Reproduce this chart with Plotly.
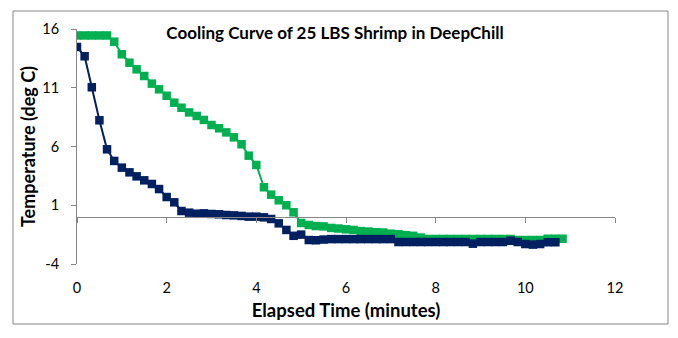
import plotly.graph_objects as go

# Elapsed time in minutes (10-second intervals)
time_min = [0.00, 0.17, 0.33, 0.50, 0.67, 0.83, 1.00, 1.17, 1.33, 1.50,
            1.67, 1.83, 2.00, 2.17, 2.33, 2.50, 2.67, 2.83, 3.00, 3.17,
            3.33, 3.50, 3.67, 3.83, 4.00, 4.17, 4.33, 4.50, 4.67, 4.83,
            5.00, 5.17, 5.33, 5.50, 5.67, 5.83, 6.00, 6.17, 6.33, 6.50,
            6.67, 6.83, 7.00, 7.17, 7.33, 7.50, 7.67, 7.83, 8.00, 8.17,
            8.33, 8.50, 8.67, 8.83, 9.00, 9.17, 9.33, 9.50, 9.67, 9.83,
            10.00, 10.17, 10.33, 10.50, 10.67, 10.83]

green_temp = [15.45, 15.45, 15.45, 15.45, 15.45, 14.92, 13.85, 13.13, 12.57, 12.00,
              11.35, 10.87, 10.32, 9.73, 9.30, 8.90, 8.60, 8.26, 7.83, 7.55,
              7.20, 6.78, 6.19, 5.22, 4.43, 2.53, 1.90, 1.42, 1.00, 0.40,
              -0.51, -0.68, -0.77, -0.80, -0.93, -0.98, -1.05, -1.10, -1.20, -1.24,
              -1.30, -1.32, -1.42, -1.47, -1.55, -1.60, -1.75, -1.87, -1.87, -1.87,
              -1.87, -1.87, -1.87, -1.87, -1.87, -1.87, -1.87, -1.87, -1.87, -1.96,
              -1.96, -1.96, -1.96, -1.85, -1.85, -1.85]

navy_temp = [14.47, 13.68, 11.04, 8.23, 5.76, 4.77, 4.20, 3.80, 3.46, 3.12,
             2.81, 2.38, 1.70, 1.25, 0.51, 0.37, 0.28, 0.31, 0.26, 0.23,
             0.17, 0.14, 0.09, 0.03, 0.03, -0.03, -0.17, -0.54, -1.10, -1.60,
             -1.50, -1.96, -1.98, -1.92, -1.88, -1.88, -1.88, -1.88, -1.88, -1.88,
             -1.88, -1.88, -1.88, -2.13, -2.13, -2.13, -2.13, -2.13, -2.13, -2.13,
             -2.13, -2.13, -2.13, -2.27, -2.13, -2.13, -2.13, -2.13, -2.02, -2.13,
             -2.30, -2.35, -2.30, -2.15, -2.15]

x_ticks = [0, 2, 4, 6, 8, 10, 12]
y_ticks = [-4, 1, 6, 11, 16]
y_tick_labels = ["-4", "1", "6", "11", "16"]

GREEN = "#00B050"
NAVY = "#002060"
AXIS = "#868686"
FONT = "Lato"

fig = go.Figure()
fig.add_trace(go.Scatter(x=time_min, y=green_temp, mode="lines+markers",
                         line=dict(color=GREEN, width=2),
                         marker=dict(symbol="square", size=8.5, color=GREEN),
                         showlegend=False, hoverinfo="x+y"))
fig.add_trace(go.Scatter(x=time_min[:len(navy_temp)], y=navy_temp, mode="lines+markers",
                         xaxis="x2",
                         line=dict(color=NAVY, width=2),
                         marker=dict(symbol="square", size=8.5, color=NAVY),
                         showlegend=False, hoverinfo="x+y"))

y_min, y_max = -4, 16
zero_pos = (0 - y_min) / (y_max - y_min)

fig.update_layout(
    width=678, height=338,
    margin=dict(l=77, r=63, t=29, b=74),
    paper_bgcolor="white", plot_bgcolor="white",
    font=dict(family=FONT, size=14, color="#000000"),
    title=dict(text="<b>Cooling Curve of 25 LBS Shrimp in DeepChill</b>",
               x=335 / 678, xanchor="center", xref="container",
               y=1 - 33 / 338, yanchor="middle", yref="container",
               font=dict(family=FONT, size=17, color="#000000")),
    xaxis=dict(range=[0, 12], tickvals=x_ticks, showline=False, ticks="",
               showgrid=False, zeroline=False, ticklabelstandoff=13,
               title=dict(text="<b>Elapsed Time (minutes)</b>",
                          font=dict(family=FONT, size=18.5), standoff=9),
               tickfont=dict(family=FONT, size=14.5)),
    xaxis2=dict(range=[0, 12], tickvals=x_ticks, overlaying="x", anchor="free",
                position=zero_pos, side="bottom", showline=True, linecolor=AXIS,
                linewidth=1, ticks="outside", ticklen=5, tickcolor=AXIS,
                showticklabels=False, showgrid=False, zeroline=False),
    yaxis=dict(range=[y_min, y_max], tickvals=y_ticks, ticktext=y_tick_labels,
               showline=True,
               linecolor=AXIS, linewidth=1, ticks="outside", ticklen=5,
               tickcolor=AXIS, showgrid=False, zeroline=False,
               ticklabelstandoff=9,
               title=dict(text="<b>Temperature (deg C)</b>",
                          font=dict(family=FONT, size=18), standoff=1),
               tickfont=dict(family=FONT, size=14.5)),
)

pw, ph = 678 - 77 - 63, 338 - 29 - 74
fig.add_shape(type="rect", xref="paper", yref="paper",
              x0=(13 - 77) / pw, x1=(668 - 77) / pw,
              y0=(264 - 324) / ph, y1=(264 - 11) / ph,
              line=dict(color=AXIS, width=1), fillcolor="rgba(0,0,0,0)",
              layer="below")

fig.write_html("out.html")
